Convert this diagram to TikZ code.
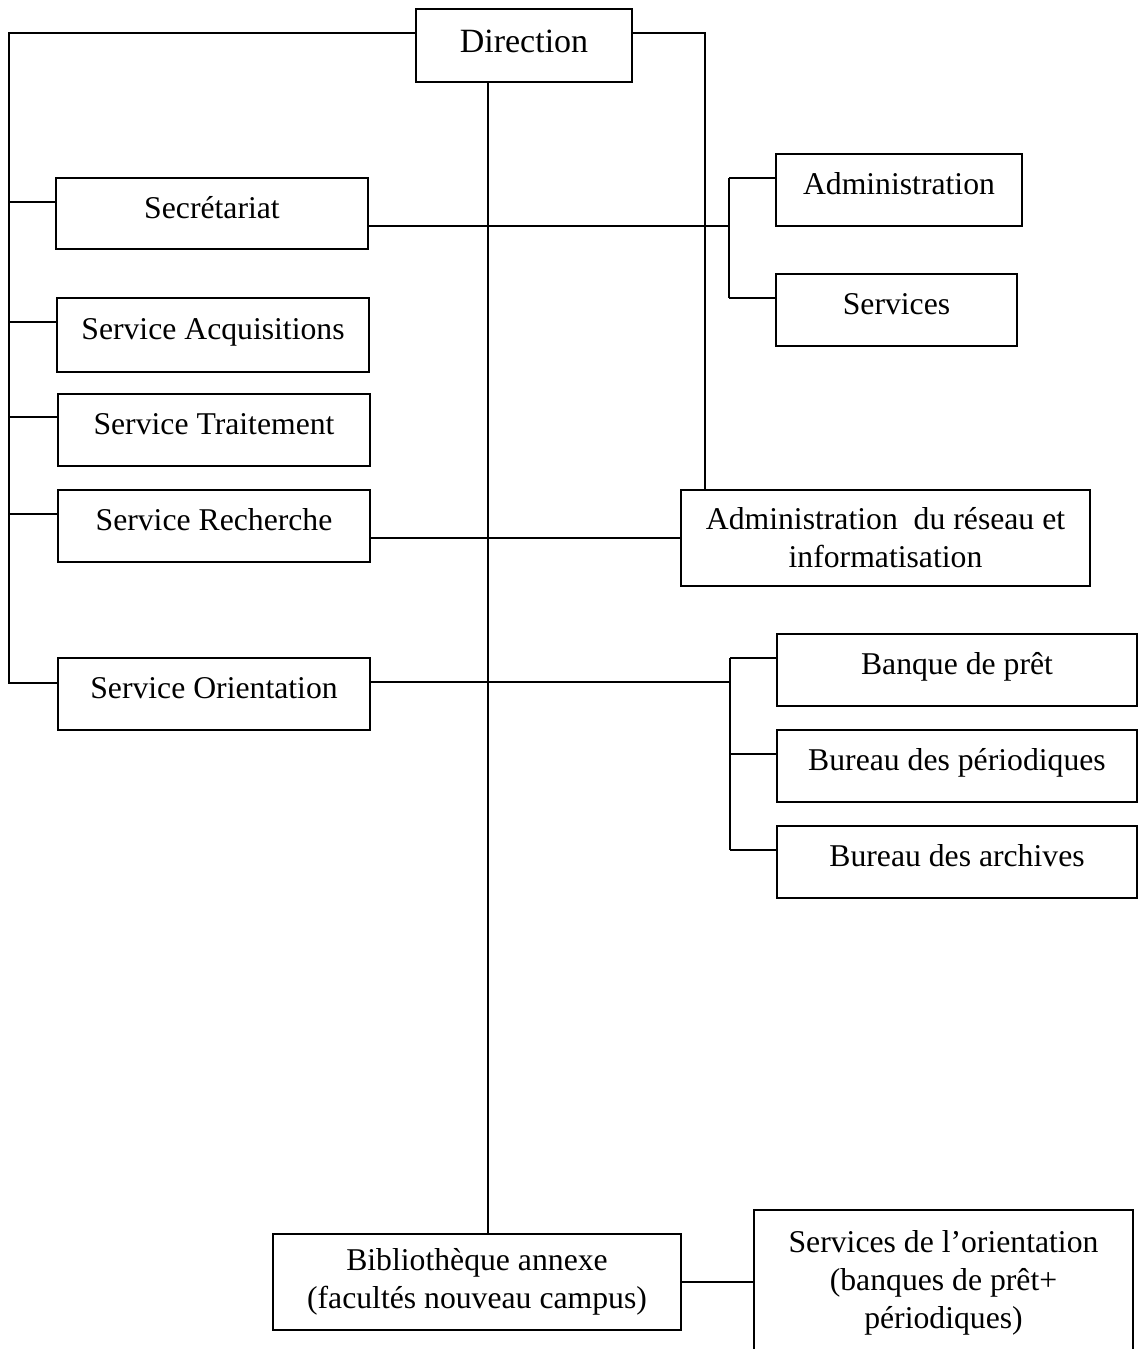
\documentclass[tikz,border=0pt]{standalone}
\usepackage{fontspec}
\setmainfont{Liberation Serif}
\begin{document}
\begin{tikzpicture}[x=0.5pt,y=-0.5pt, line width=1pt,
  box/.style={draw, inner sep=0pt, outer sep=0pt, align=center, font=\fontsize{15.85}{19}\selectfont},
  single/.style={text height=9pt, text depth=4.4pt},
  wh/.style 2 args={minimum width=#1*0.5pt, minimum height=#2*0.5pt}]
\useasboundingbox (0,0) rectangle (1138,1349);
\clip (0,0) rectangle (1138,1349);
% nodes
\node[box, wh={216}{73}, font=\fontsize{17}{20}\selectfont, text height=11pt, text depth=3.8pt] (dir) at (524,45.5) {Direction};
\node[box, single, wh={312}{71}] (sec) at (212,213.5) {Secrétariat};
\node[box, single, wh={312}{74}] (acq) at (213,335) {Service Acquisitions};
\node[box, single, wh={312}{72}] (trt) at (214,430) {Service Traitement};
\node[box, single, wh={312}{72}] (rec) at (214,526) {Service Recherche};
\node[box, single, wh={312}{72}] (ori) at (214,694) {Service Orientation};
\node[box, single, wh={246}{72}] (adm) at (899,190) {Administration};
\node[box, single, wh={241}{72}] (svc) at (896.5,310) {Services};
\node[box, wh={409}{96}] (res) at (885.5,538) {Administration\ \ du réseau et\\informatisation};
\node[box, single, wh={360}{72}] (bq) at (957,670) {Banque de prêt};
\node[box, single, wh={360}{72}] (per) at (957,766) {Bureau des périodiques};
\node[box, single, wh={360}{72}] (arc) at (957,862) {Bureau des archives};
\node[box, wh={408}{96}] (bib) at (477,1282) {Bibliothèque annexe\\(facultés nouveau campus)};
\node[box, wh={379}{146}] (sor) at (943.5,1283) {Services de l’orientation\\(banques de prêt+\\périodiques)};
% junction coordinates
\coordinate (lt) at (9,33);
\coordinate (lb) at (9,683);
\coordinate (rt) at (705,33);
\coordinate (bs) at (729,178);
\coordinate (bsb) at (729,298);
\coordinate (bo) at (730,658);
\coordinate (bob) at (730,850);
% connectors
\draw (dir.west |- lt) -- (lt) -- (lb) -- (ori.west |- lb);
\draw (lt |- 0,202) -- (sec.west |- 0,202);
\draw (lt |- 0,322) -- (acq.west |- 0,322);
\draw (lt |- 0,417) -- (trt.west |- 0,417);
\draw (lt |- 0,514) -- (rec.west |- 0,514);
\draw (dir.east |- rt) -- (rt) -- (rt |- res.north);
\draw (dir.south -| 488,0) -- (bib.north -| 488,0);
\draw (sec.east |- 0,226) -- (bs |- 0,226);
\draw (bs) -- (bsb);
\draw (bs) -- (adm.west |- bs);
\draw (bsb) -- (svc.west |- bsb);
\draw (rec.east |- res.west) -- (res.west);
\draw (ori.east |- 0,682) -- (bo |- 0,682);
\draw (bo) -- (bob);
\draw (bo) -- (bq.west |- bo);
\draw (bo |- 0,754) -- (per.west |- 0,754);
\draw (bob) -- (arc.west |- bob);
\draw (bib.east) -- (bib.east -| sor.west);
\end{tikzpicture}
\end{document}
